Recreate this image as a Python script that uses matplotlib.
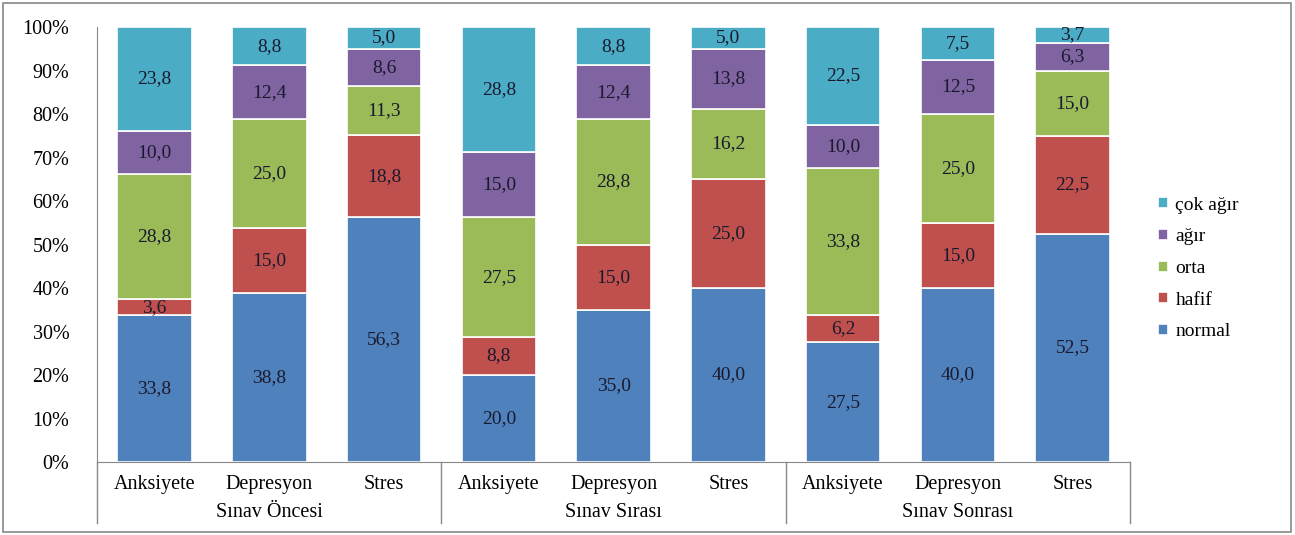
import numpy as np
import matplotlib.pyplot as plt
from matplotlib.patches import Rectangle
from matplotlib.lines import Line2D

plt.rcParams['font.family'] = ['Liberation Serif', 'DejaVu Serif']

categories = ['Anksiyete', 'Depresyon', 'Stres'] * 3
groups = ['Sınav Öncesi', 'Sınav Sırası', 'Sınav Sonrası']
series = ['normal', 'hafif', 'orta', 'ağır', 'çok ağır']
normal = [33.8, 38.8, 56.3, 20.0, 35.0, 40.0, 27.5, 40.0, 52.5]
hafif = [3.6, 15.0, 18.8, 8.8, 15.0, 25.0, 6.2, 15.0, 22.5]
orta = [28.8, 25.0, 11.3, 27.5, 28.8, 16.2, 33.8, 25.0, 15.0]
agir = [10.0, 12.4, 8.6, 15.0, 12.4, 13.8, 10.0, 12.5, 6.3]
cok_agir = [23.8, 8.8, 5.0, 28.8, 8.8, 5.0, 22.5, 7.5, 3.7]
colors = ['#4F81BD', '#C0504D', '#9BBB59', '#8064A2', '#4BACC6']

data = np.array([normal, hafif, orta, agir, cok_agir])
pct = data / data.sum(axis=0) * 100

fig = plt.figure(figsize=(12.95, 5.35), dpi=100)
fig.patches.append(Rectangle((0.002, 0.006), 0.995, 0.988, transform=fig.transFigure,
                             fill=False, edgecolor='#888888', lw=1.2))
ax = fig.add_axes([0.075, 0.1364, 0.7976, 0.8131])

x = np.arange(len(categories))
bottom = np.zeros(len(categories))
handles = []
for i, name in enumerate(series):
    b = ax.bar(x, pct[i], 0.65, bottom=bottom, color=colors[i], edgecolor='white',
               linewidth=1.2, label=name)
    handles.append(b)
    for j in range(len(x)):
        ax.text(x[j], bottom[j] + pct[i][j] / 2, f'{data[i][j]:.1f}'.replace('.', ','),
                ha='center', va='center', fontsize=14, color='#1a1a2e')
    bottom += pct[i]

ax.set_xlim(-0.5, len(categories) - 0.5)
ax.set_ylim(0, 100)
ax.set_yticks(np.arange(0, 101, 10))
ax.set_yticklabels([f'{v}%' for v in range(0, 101, 10)], fontsize=14.5)
ax.set_xticks(x)
ax.set_xticklabels(categories, fontsize=14.5)
ax.tick_params(axis='x', length=0, pad=9)
ax.tick_params(axis='y', length=0, pad=20)
for s in ['top', 'right']:
    ax.spines[s].set_visible(False)
ax.spines['left'].set_color('#888888')
ax.spines['bottom'].set_color('#888888')

# group separators and labels below the axis
for k in range(4):
    xs = -0.5 + 3 * k
    ax.add_line(Line2D([xs, xs], [0, -14], color='#888888', lw=1, clip_on=False))
for k, g in enumerate(groups):
    ax.text(3 * k + 1, -11.5, g, ha='center', va='center', fontsize=14.5)

leg = ax.legend(handles[::-1], series[::-1], loc='center left', bbox_to_anchor=(1.01, 0.445),
                frameon=False, fontsize=14, handlelength=0.5, handleheight=0.5,
                labelspacing=0.75, handletextpad=0.4)

fig.savefig('out.png', dpi=100)
